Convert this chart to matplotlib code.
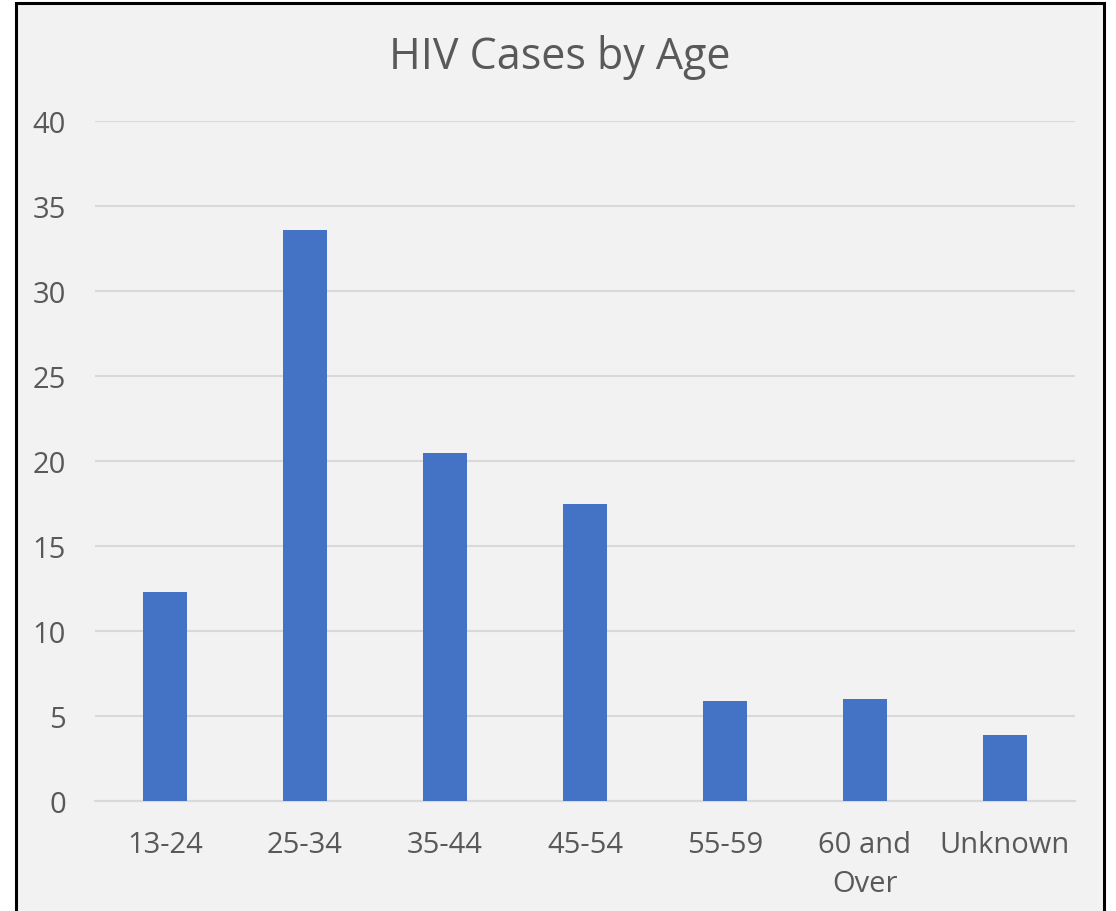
import matplotlib
matplotlib.use("Agg")
import matplotlib.pyplot as plt
from matplotlib.patches import Rectangle

categories = ["13-24", "25-34", "35-44", "45-54", "55-59", "60 and\nOver", "Unknown"]
values = [12.3, 33.6, 20.5, 17.5, 5.9, 6.0, 3.9]
yticks = [0, 5, 10, 15, 20, 25, 30, 35, 40]

plt.rcParams['font.family'] = ['Open Sans', 'DejaVu Sans']
W, H = 1116, 912
fig = plt.figure(figsize=(W/100, H/100), dpi=100, facecolor='white')

# chart area background with black border
bg = Rectangle((16/W, -0.02), (1104-16)/W, 1.02 - 4/H, transform=fig.transFigure,
               facecolor='#F2F2F2', edgecolor='black', linewidth=2.2, zorder=-5)
fig.patches.append(bg)

ax = fig.add_axes([95/W, 1 - 802/H, (1075-95)/W, (802-122)/H], zorder=2)
ax.set_facecolor('none')
x = list(range(len(categories)))
ax.bar(x, values, width=0.314, color='#4472C4', zorder=3)
ax.set_xlim(-0.5, len(categories) - 0.5)
ax.set_ylim(0, 40)
ax.set_yticks(yticks)
ax.set_xticks(x)
ax.set_xticklabels(categories, linespacing=1.45)
ax.yaxis.grid(True, color='#D9D9D9', linewidth=1.5, zorder=0)
ax.set_axisbelow(True)
for s in ['top', 'right', 'left']:
    ax.spines[s].set_visible(False)
ax.spines['bottom'].set_color('#D9D9D9')
ax.spines['bottom'].set_linewidth(1.5)
ax.tick_params(axis='both', length=0, labelsize=21, colors='#595959')
ax.tick_params(axis='y', pad=21)
ax.tick_params(axis='x', pad=21)

fig.text((390+730)/2/W, 1 - 58/H, "HIV Cases by Age", ha='center', va='center',
         fontsize=31, color='#595959')

fig.savefig("out.png", dpi=100, facecolor='white')
